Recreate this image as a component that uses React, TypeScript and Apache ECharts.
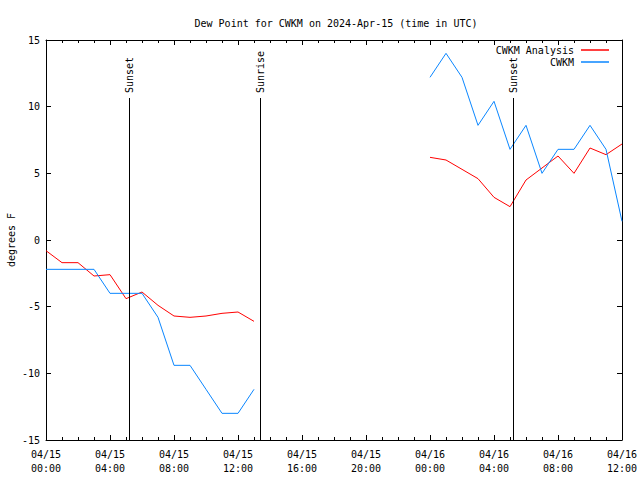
import React, { useEffect, useRef } from "react";
import * as echarts from "echarts";

// hours since 2024-04-15 00:00 UTC
const hoursDay1 = [0, 1, 2, 3, 4, 5, 6, 7, 8, 9, 10, 11, 12, 13];
const hoursDay2 = [24, 25, 26, 27, 28, 29, 30, 31, 32, 33, 34, 35, 36];

const analysisDay1 = [-0.8, -1.7, -1.7, -2.7, -2.6, -4.4, -3.9, -4.9, -5.7, -5.8, -5.7, -5.5, -5.4, -6.1];
const analysisDay2 = [6.2, 6.0, 5.3, 4.6, 3.2, 2.5, 4.5, 5.4, 6.3, 5.0, 6.9, 6.4, 7.2];

const obsDay1 = [-2.2, -2.2, -2.2, -2.2, -4.0, -4.0, -4.0, -5.8, -9.4, -9.4, -11.2, -13.0, -13.0, -11.2];
const obsDay2 = [12.2, 14.0, 12.2, 8.6, 10.4, 6.8, 8.6, 5.0, 6.8, 6.8, 8.6, 6.8, 1.4];

const sunEvents = [
  { hour: 5.2, label: "Sunset" },
  { hour: 13.42, label: "Sunrise" },
  { hour: 29.2, label: "Sunset" },
];

const xTickLabels = [
  "04/15\n00:00", "04/15\n04:00", "04/15\n08:00", "04/15\n12:00", "04/15\n16:00",
  "04/15\n20:00", "04/16\n00:00", "04/16\n04:00", "04/16\n08:00", "04/16\n12:00",
];

const FONT = "DejaVu Sans Mono";
const RED = "#ff0000";
const BLUE = "#0a86ff";
const LINE_TOP = 10.65;

const zip = (xs: number[], ys: number[]) => xs.map((x, i) => [x, ys[i]]);

export default function App() {
  const ref = useRef<HTMLDivElement>(null);
  useEffect(() => {
    if (!ref.current) return;
    const chart = echarts.init(ref.current, null, { renderer: "svg" });
    const axisCommon = {
      axisLine: { show: true, onZero: false, lineStyle: { color: "#000", width: 1 } },
      splitLine: { show: false },
    };
    const lineSeries = (name: string, color: string, data: number[][], extra: any = {}) => ({
      name,
      type: "line",
      data,
      symbol: "none",
      showSymbol: false,
      lineStyle: { color, width: 1 },
      itemStyle: { color },
      silent: true,
      ...extra,
    });
    const legendCommon = {
      right: 31,
      align: "right",
      orient: "horizontal",
      icon: "rect",
      itemWidth: 28,
      itemHeight: 1.5,
      padding: 0,
      selectedMode: false,
      textStyle: { fontFamily: FONT, fontSize: 10, color: "#000", padding: [0, 2, 0, 0] },
    };
    chart.setOption({
      animation: false,
      backgroundColor: "#fff",
      textStyle: { fontFamily: FONT },
      title: {
        text: "Dew Point for CWKM on 2024-Apr-15 (time in UTC)",
        left: 331,
        textAlign: "center",
        top: 13,
        textStyle: { fontFamily: FONT, fontSize: 10, fontWeight: "normal", color: "#000" },
      },
      legend: [
        { ...legendCommon, data: ["CWKM Analysis"], top: 45 },
        { ...legendCommon, data: ["CWKM"], top: 57 },
      ],
      grid: {
        left: 46,
        right: 18,
        top: 40,
        bottom: 40,
        containLabel: false,
        outerBoundsMode: "none",
      },
      xAxis: [
        {
          type: "value",
          position: "bottom",
          min: 0,
          max: 36,
          interval: 4,
          ...axisCommon,
          axisTick: { show: true, inside: true, length: 5, lineStyle: { color: "#000" } },
          minorTick: { show: true, splitNumber: 4, length: 3, lineStyle: { color: "#000" } },
          axisLabel: {
            show: true,
            margin: 7,
            fontFamily: FONT,
            fontSize: 10,
            lineHeight: 14,
            color: "#000",
            formatter: (v: number) => xTickLabels[Math.round(v / 4)] ?? "",
          },
        },
        {
          type: "value",
          position: "top",
          min: 0,
          max: 36,
          interval: 4,
          ...axisCommon,
          axisTick: { show: true, inside: true, length: 5, lineStyle: { color: "#000" } },
          minorTick: { show: true, splitNumber: 4, length: 3, lineStyle: { color: "#000" } },
          axisLabel: { show: false },
        },
      ],
      yAxis: [
        {
          type: "value",
          position: "left",
          min: -15,
          max: 15,
          interval: 5,
          ...axisCommon,
          axisTick: { show: true, inside: true, length: 5, lineStyle: { color: "#000" } },
          axisLabel: { show: true, margin: 6, fontFamily: FONT, fontSize: 10, color: "#000" },
        },
        {
          type: "value",
          position: "right",
          min: -15,
          max: 15,
          interval: 5,
          ...axisCommon,
          axisTick: { show: true, inside: true, length: 5, lineStyle: { color: "#000" } },
          axisLabel: { show: false },
        },
      ],
      series: [
        lineSeries("CWKM Analysis", RED, zip(hoursDay1, analysisDay1), {
          markLine: {
            silent: true,
            symbol: "none",
            animation: false,
            label: { show: false },
            lineStyle: { color: "#000", width: 1, type: "solid" },
            data: sunEvents.map((e) => [
              { coord: [e.hour, -15] },
              { coord: [e.hour, LINE_TOP] },
            ]),
          },
        }),
        lineSeries("CWKM Analysis", RED, zip(hoursDay2, analysisDay2)),
        lineSeries("CWKM", BLUE, zip(hoursDay1, obsDay1)),
        lineSeries("CWKM", BLUE, zip(hoursDay2, obsDay2)),
      ],
    });
    const labels: any[] = sunEvents.map((e) => {
      const p = chart.convertToPixel({ gridIndex: 0 }, [e.hour, LINE_TOP]) as number[];
      return {
        type: "text",
        x: p[0],
        y: p[1] - 5,
        rotation: Math.PI / 2,
        silent: true,
        style: {
          text: e.label,
          fill: "#000",
          font: `10px "${FONT}"`,
          align: "left",
          verticalAlign: "middle",
        },
      };
    });
    labels.push({
      type: "text",
      x: 11,
      y: 240,
      rotation: Math.PI / 2,
      silent: true,
      style: {
        text: "degrees F",
        fill: "#000",
        font: `10px "${FONT}"`,
        align: "center",
        verticalAlign: "middle",
      },
    });
    chart.setOption({ graphic: labels });
    return () => chart.dispose();
  }, []);
  return (
    <div
      ref={ref}
      style={{ position: "absolute", left: 0, top: 0, width: 640, height: 480 }}
    />
  );
}
